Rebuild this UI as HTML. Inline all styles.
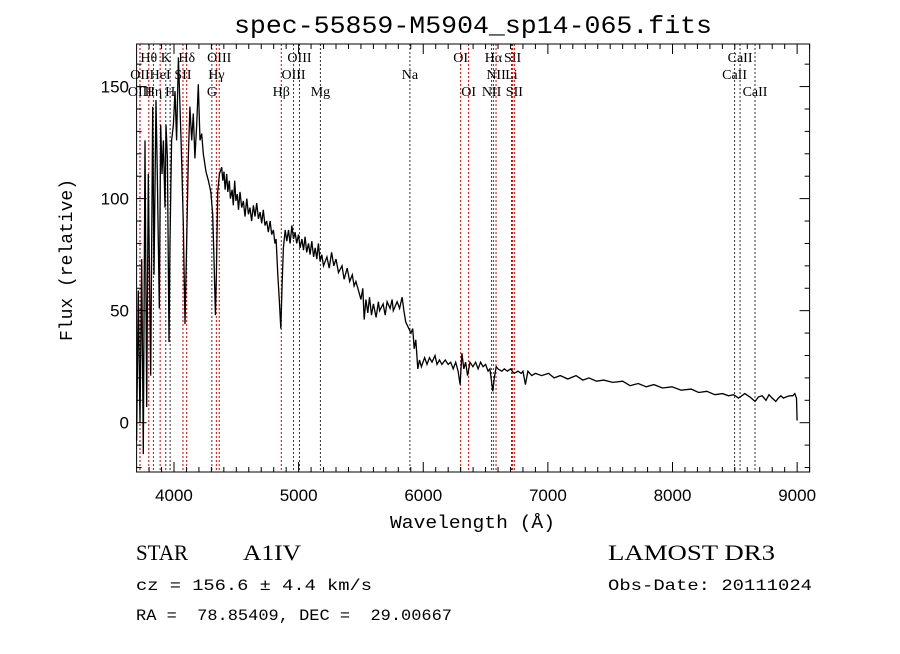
<!DOCTYPE html>
<html><head><meta charset="utf-8"><style>
body{margin:0;background:#fff;}
svg text{font-family:"Liberation Sans",sans-serif;fill:#000;}
</style></head><body>
<svg id="chart" width="900" height="649" viewBox="0 0 900 649" xmlns="http://www.w3.org/2000/svg">
<rect x="0" y="0" width="900" height="649" fill="#fff"/>
<text x="234" y="33" font-size="25" textLength="478" lengthAdjust="spacingAndGlyphs" style="font-family:'Liberation Mono',monospace">spec-55859-M5904_sp14-065.fits</text>
<g id="lines"></g>
<g id="axes"></g>
<path id="spec" fill="none" stroke="#000" stroke-width="1.3"/>
<rect x="136.6" y="44" width="673" height="428" fill="none" stroke="#000" stroke-width="1"/>
<text x="390" y="528" font-size="18" textLength="165" lengthAdjust="spacingAndGlyphs" style="font-family:'Liberation Mono',monospace">Wavelength (Å)</text>
<text transform="translate(72,260) rotate(-90)" font-size="18" text-anchor="middle" style="font-family:'Liberation Mono',monospace">Flux (relative)</text>
<text x="136" y="560" font-size="22" textLength="52" lengthAdjust="spacingAndGlyphs" style="font-family:'Liberation Serif',serif">STAR</text>
<text x="243" y="560" font-size="22" textLength="58" lengthAdjust="spacingAndGlyphs" style="font-family:'Liberation Serif',serif">A1IV</text>
<text x="608" y="560" font-size="22" textLength="167" lengthAdjust="spacingAndGlyphs" style="font-family:'Liberation Serif',serif">LAMOST DR3</text>
<text x="136" y="590" font-size="16" textLength="236" lengthAdjust="spacingAndGlyphs" style="font-family:'Liberation Mono',monospace">cz = 156.6 ± 4.4 km/s</text>
<text x="608" y="590" font-size="16" textLength="204" lengthAdjust="spacingAndGlyphs" style="font-family:'Liberation Mono',monospace">Obs-Date: 20111024</text>
<text x="136" y="620" font-size="16" textLength="316" lengthAdjust="spacingAndGlyphs" style="font-family:'Liberation Mono',monospace;white-space:pre" xml:space="preserve">RA =  78.85409, DEC =  29.00667</text>
</svg>
<script>
const wavelengths=[3700,3714,3727,3741,3754,3767,3781,3794,3813,3829,3840,3856,3866,3882,3893,3904,3915,3928,3936,3947,3960,3968,3981,3995,4008,4021,4035,4048,4061,4075,4088,4102,4115,4128,4142,4155,4168,4182,4195,4209,4222,4235,4257,4276,4295,4311,4321,4332,4340,4351,4364,
4383,4392,4401,4410,4423,4432,4444,4453,4466,4476,4487,4497,4508,4518,4530,4543,4557,4570,4584,4597,4610,4623,4637,4650,4664,4677,4691,4704,4717,4730,4744,4757,4771,4784,4798,4810,4819,4833,4846,4857,4868,4878,
4892,4905,4919,4932,4946,4959,4972,4985,4999,5012,5026,5039,5052,5065,5079,5092,5106,5120,5133,5146,5159,5172,5186,5200,5227,5245,5265,5282,5300,5320,5348,5365,5390,5410,5431,5445,5460,5485,5500,5515,5526,5540,5555,5569,5585,5600,5622,5640,5650,5678,5695,5710,5734,5750,5760,5790,5810,5830,5845,5859,
5902,5915,5927,5940,5956,5970,5985,6011,6030,6050,6070,6094,6110,6130,6150,6176,6200,6220,6240,6260,6280,6296,6310,6325,6340,6356,6375,6398,6420,6440,6460,6480,6500,6520,6535,6558,6570,6585,6600,6630,6650,6675,6700,6730,6760,6786,6800,6820,6840,6870,6900,6950,7006,7050,7100,7160,7226,7280,7330,7390,7448,7520,7600,7660,7725,7790,7850,7920,7997,8070,8150,8210,8275,8340,8400,8450,8490,8530,8580,8620,8663,8690,8720,8750,8774,8800,8829,8850,8870,8890,8912,8940,8965,8981,8995,9000];
const fluxes=[-8,59,0,73,-14,126,7,111,21,141,66,144,111,51,133,111,126,96,133,118,36,81,126,133,148,126,163,141,118,89,44,81,118,141,126,138,118,133,151,126,129,120,112,108,103,93,73,48,66,103,111,
114,108,112,104,111,103,108,100,104,97,108,99,102,95,103,96,99,92,100,93,96,90,97,92,98,91,94,89,95,88,90,85,90,84,86,80,82,66,54,42,63,78,
86,81,86,80,88,82,85,80,84,78,82,77,83,76,80,75,81,74,78,73,80,72,75,70,74,69,76,70,73,67,70,64,69,63,66,61,63,58,55,60,46,55,49,56,48,53,47,54,50,53,48,54,51,55,50,54,51,56,50,45,
40,42,33,37,24,28,25,29,26,29,27,30,26,28,26,28,26,27,24,27,23,17,31,24,27,21,27,25,27,24,27,25,26,23,24,14,20,25,24,23,24,23,24,22,23,22,23,17,23,21,22,21,22,20,21,19.5,21,19,20,18.5,19,18,18.5,16.5,17.5,16,17,15.5,16,14.5,15,13.5,14,12.5,13,12,12.5,11,13,11.5,9.5,11.5,12,10,12.5,11,9.5,11,12,11,11.5,12,12,13,11,1];
const xTicks=[4000,5000,6000,7000,8000,9000];
const yTicks=[0,50,100,150];
const lineWaves=[3798,3934,4102,4363,5007,6300,6563,6717,8542,3727,3889,4072,4340,4959,5893,6584,6708,8498,3727,3835,3969,4304,4861,5175,6364,6548,6731,8662];
const lineNames=["Hθ","K","Hδ","OIII","OIII","OI","Hα","SII","CaII","OII","HeI","SII","Hγ","OIII","Na","NII","Li","CaII","OIII","Hη","H","G","Hβ","Mg","OI","NII","SII","CaII"];
const lineRows=[0,0,0,0,0,0,0,0,0,1,1,1,1,1,1,1,1,1,2,2,2,2,2,2,2,2,2,2];
const lineAbs=[0,1,0,0,0,0,0,0,1,0,0,0,0,0,1,0,0,1,0,0,1,1,0,1,0,0,0,1];
const X0=136.6,X1=809.6,Y0=44,Y1=472,WMIN=3700,WMAX=9100,FMIN=-22,FMAX=169;
const sx=w=>X0+(w-WMIN)/(WMAX-WMIN)*(X1-X0);
const sy=f=>Y1-(f-FMIN)/(FMAX-FMIN)*(Y1-Y0);
const NS="http://www.w3.org/2000/svg";
function mk(t,a,p){const e=document.createElementNS(NS,t);for(const k in a)e.setAttribute(k,a[k]);p.appendChild(e);return e;}
const lg=document.getElementById('lines');
lineWaves.forEach((w,i)=>{
  const l=mk('line',{x1:sx(w),x2:sx(w),y1:Y0,y2:Y1,stroke:lineAbs[i]?'#333':'#c00',"stroke-width":1,"stroke-dasharray":"2,2"},lg);
  
  
  const t=mk('text',{x:sx(w),y:62+lineRows[i]*17,"font-size":14,"text-anchor":"middle",style:"font-family:'Liberation Serif',serif"},lg);
  t.textContent=lineNames[i];
  
  
});
const ag=document.getElementById('axes');
for(let w=3800;w<=9100;w+=100){
  const major=w%1000===0,len=major?10:5;
  mk('line',{x1:sx(w),x2:sx(w),y1:Y1,y2:Y1-len,stroke:'#000'},ag);
  mk('line',{x1:sx(w),x2:sx(w),y1:Y0,y2:Y0+len,stroke:'#000'},ag);
}
xTicks.forEach(w=>{
  const t=mk('text',{x:sx(w),y:501,"font-size":17,"text-anchor":"middle"},ag);
  t.textContent=w;
  
  
});
for(let f=-20;f<=160;f+=10){
  const major=f%50===0,len=major?10:5;
  mk('line',{x1:X0,x2:X0+len,y1:sy(f),y2:sy(f),stroke:'#000'},ag);
  mk('line',{x1:X1,x2:X1-len,y1:sy(f),y2:sy(f),stroke:'#000'},ag);
}
yTicks.forEach(f=>{
  const t=mk('text',{x:129,y:sy(f)+6,"font-size":17,"text-anchor":"end"},ag);
  t.textContent=f;
  
  
});
let d='';
wavelengths.forEach((w,i)=>{d+=(i?'L':'M')+sx(w).toFixed(1)+','+sy(fluxes[i]).toFixed(1);});
document.getElementById('spec').setAttribute('d',d);
</script>
</body></html>
